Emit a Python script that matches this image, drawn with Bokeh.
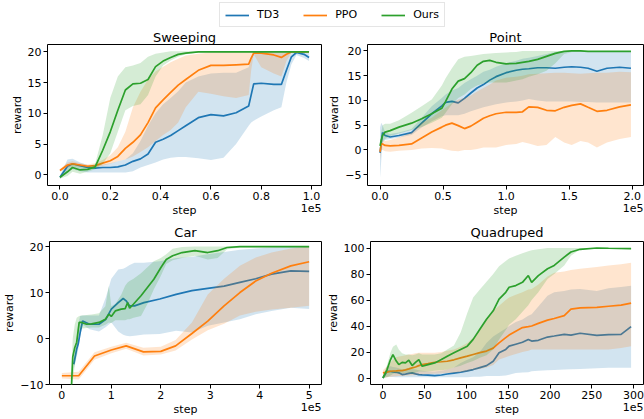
from bokeh.plotting import figure
from bokeh.layouts import column, row
from bokeh.models import Range1d, FixedTicker, LinearAxis, Legend, LegendItem, PrintfTickFormatter
from bokeh.embed import file_html
from bokeh.resources import INLINE

C_TD3 = "#1f77b4"
C_PPO = "#ff7f0e"
C_OURS = "#2ca02c"
FONT = "DejaVu Sans"

# ---------------- Sweeping (step in 1e5) ----------------
sweep_x = [0.0, 0.03, 0.05, 0.08, 0.11, 0.14, 0.17, 0.20, 0.23, 0.26, 0.29, 0.32, 0.35, 0.38, 0.41,
           0.44, 0.47, 0.50, 0.55, 0.60, 0.65, 0.70, 0.75, 0.76, 0.77, 0.80, 0.85, 0.88, 0.90, 0.92,
           0.94, 0.97, 0.99]
sweep_td3 = [-0.4, 1.4, 1.8, 1.5, 1.2, 1.1, 1.2, 1.2, 1.3, 1.6, 2.2, 2.6, 3.4, 5.3, 5.8, 6.4, 7.2, 8.0,
             9.3, 9.8, 9.6, 10.1, 11.2, 13.0, 14.8, 14.9, 14.7, 14.7, 17.0, 19.2, 19.9, 19.6, 19.1]
sweep_td3_lo = [-0.7, 0.5, 0.9, 0.6, 0.4, 0.4, 0.4, 0.4, 0.4, 0.4, 0.6, 1.2, 1.6, 2.0, 2.5, 2.8, 2.9,
                2.9, 2.7, 2.4, 2.8, 5.0, 8.0, 8.5, 8.8, 9.5, 10.5, 11.0, 15.0, 18.0, 19.5, 19.0, 18.5]
sweep_td3_hi = [-0.1, 2.5, 2.6, 2.0, 1.6, 1.6, 1.7, 1.9, 2.2, 2.5, 3.5, 5.5, 8.0, 10.0, 11.5, 12.5,
                13.6, 15.0, 16.0, 16.5, 16.6, 16.6, 17.5, 19.0, 20.0, 20.0, 20.0, 20.0, 20.0, 20.0,
                20.0, 20.0, 19.8]
sweep_ppo = [0.7, 1.6, 1.8, 1.6, 1.4, 1.5, 1.9, 2.3, 3.0, 4.3, 5.3, 6.5, 8.5, 10.9, 12.2, 13.4, 14.6,
             15.5, 17.0, 17.8, 17.8, 17.9, 18.0, 19.0, 19.8, 19.8, 19.5, 19.1, 19.6, 20.0, 20.0, 20.0,
             20.0]
sweep_ppo_lo = [0.5, 1.2, 1.4, 1.3, 1.2, 1.2, 1.5, 1.8, 2.2, 2.5, 3.0, 3.7, 4.5, 5.5, 6.5, 7.3, 8.5,
                11.0, 13.5, 13.2, 12.8, 12.5, 13.0, 17.0, 19.6, 17.5, 16.5, 16.0, 18.5, 19.9, 19.9,
                19.9, 19.9]
sweep_ppo_hi = [0.9, 2.0, 2.2, 1.9, 1.7, 1.9, 2.4, 3.2, 4.5, 7.0, 11.0, 13.5, 15.5, 16.8, 17.6, 18.3,
                18.9, 19.4, 19.7, 19.9, 20.0, 20.0, 20.0, 20.0, 20.0, 20.0, 20.0, 20.0, 20.0, 20.0,
                20.0, 20.0, 20.0]
sweep_ours = [-0.4, 0.5, 1.2, 0.8, 0.9, 1.3, 4.0, 7.0, 10.5, 13.8, 14.8, 14.9, 15.5, 17.6, 18.5, 19.1,
              19.6, 19.8, 20.0, 20.0, 20.0, 20.0, 20.0, 20.0, 20.0, 20.0, 20.0, 20.0, 20.0, 20.0,
              20.0, 20.0, 20.0]
sweep_ours_lo = [-0.6, -0.2, 0.5, 0.2, 0.5, 0.9, 1.8, 3.5, 7.0, 10.5, 11.2, 11.5, 13.0, 16.0, 17.8,
                 18.6, 19.2, 19.6, 19.9, 19.9, 19.9, 19.9, 19.9, 19.9, 19.9, 19.9, 19.9, 19.9, 19.9,
                 19.9, 19.9, 19.9, 19.9]
sweep_ours_hi = [-0.2, 1.2, 1.9, 1.4, 1.3, 1.8, 6.5, 12.5, 16.0, 17.5, 17.8, 18.2, 19.2, 19.7, 19.9,
                 20.1, 20.1, 20.1, 20.1, 20.1, 20.1, 20.1, 20.1, 20.1, 20.1, 20.1, 20.1, 20.1, 20.1,
                 20.1, 20.1, 20.1, 20.1]

# ---------------- Point (step in 1e5) ----------------
point_x = [0.0, 0.01, 0.02, 0.04, 0.08, 0.15, 0.25, 0.33, 0.41, 0.49, 0.52, 0.57, 0.62, 0.67, 0.72,
           0.77, 0.82, 0.87, 0.92, 1.0, 1.08, 1.13, 1.18, 1.25, 1.32, 1.39, 1.46, 1.52, 1.59, 1.65,
           1.72, 1.8, 1.9, 1.99]
point_td3 = [-0.6, 1.5, 3.5, 2.9, 2.6, 2.9, 3.5, 5.4, 7.3, 8.9, 9.6, 9.8, 9.5, 10.4, 11.5, 12.5, 13.2,
             14.1, 14.8, 15.6, 16.1, 16.3, 16.4, 16.6, 16.6, 16.5, 16.7, 16.8, 16.7, 16.5, 15.9,
             16.5, 16.7, 16.5]
point_td3_lo = [-5.7, -2.0, 1.5, 2.0, 2.2, 2.5, 3.0, 4.5, 5.8, 6.8, 7.0, 7.0, 7.0, 7.3, 7.8, 8.2, 8.6,
                8.9, 9.2, 9.6, 9.8, 10.0, 10.3, 10.0, 9.8, 9.8, 9.8, 9.8, 9.7, 9.7, 9.6, 9.6, 9.6,
                9.6]
point_td3_hi = [4.5, 5.5, 5.0, 3.6, 3.2, 3.5, 4.2, 6.5, 8.8, 10.5, 11.2, 12.0, 12.5, 13.5, 14.3, 15.0,
                15.8, 16.2, 16.8, 17.5, 18.0, 18.4, 18.6, 19.0, 19.4, 19.8, 20.0, 20.0, 20.0, 20.0,
                20.0, 20.0, 20.0, 20.0]
point_ppo = [-0.4, 1.3, 1.2, 0.9, 0.8, 0.9, 1.2, 2.4, 3.6, 4.6, 5.0, 5.4, 4.9, 4.3, 4.8, 5.6, 6.4,
             6.9, 7.3, 7.6, 7.6, 7.7, 8.7, 8.6, 8.0, 7.9, 8.6, 9.0, 9.3, 8.6, 7.8, 8.0, 8.7, 9.1]
point_ppo_lo = [-2.0, 0.0, 0.0, -0.3, -0.4, -0.2, 0.0, 0.3, 0.4, 0.3, 0.1, -0.2, -0.3, 0.0, 0.0, 0.2,
                0.5, 0.5, 0.5, 1.0, 1.2, 1.6, 1.3, 0.8, 1.0, 2.6, 1.5, 1.0, 1.8, 1.5, 0.5, 1.5, 2.2,
                2.6]
point_ppo_hi = [1.0, 2.0, 2.0, 1.8, 2.0, 2.5, 3.5, 5.5, 6.5, 8.0, 8.5, 9.5, 10.2, 10.5, 11.0, 11.8,
                12.5, 13.2, 14.0, 14.6, 14.8, 15.0, 15.3, 15.4, 15.5, 15.6, 15.6, 15.5, 15.4, 15.5,
                15.6, 15.6, 15.8, 15.7]
point_ours = [0.8, 2.0, 2.9, 3.6, 3.9, 4.6, 5.4, 6.3, 7.3, 8.4, 9.8, 12.3, 13.9, 14.4, 15.6, 17.1,
              17.9, 18.1, 17.7, 17.4, 17.5, 17.7, 17.9, 18.3, 18.9, 19.5, 19.9, 20.0, 20.0, 19.9,
              19.9, 19.9, 19.9, 19.9]
point_ours_lo = [0.0, 0.8, 1.8, 2.2, 2.8, 3.3, 4.0, 4.6, 5.5, 6.5, 7.5, 9.2, 10.5, 11.2, 12.3, 13.0,
                 13.4, 13.6, 13.6, 13.6, 14.0, 14.3, 14.8, 15.3, 16.0, 17.5, 19.4, 19.8, 19.8, 19.8,
                 19.8, 19.8, 19.8, 19.8]
point_ours_hi = [1.8, 3.5, 5.0, 5.3, 5.3, 6.0, 7.5, 8.8, 10.2, 13.0, 14.5, 16.5, 18.3, 18.8, 19.0,
                 19.2, 19.4, 19.5, 19.6, 19.7, 19.8, 20.0, 20.0, 20.0, 20.0, 20.0, 20.0, 20.0, 20.0,
                 20.0, 20.0, 20.0, 20.0, 20.0]

# ---------------- Car (step in 1e5) ----------------
car_td3_x = [0.24, 0.3, 0.33, 0.37, 0.42, 0.56, 0.75, 0.89, 1.0, 1.14, 1.24, 1.3, 1.37, 1.47, 1.66,
             1.98, 2.31, 2.63, 2.95, 3.28, 3.6, 3.92, 4.24, 4.63, 5.0]
car_td3 = [-5.6, -2.3, -1.2, 1.3, 3.8, 3.1, 3.1, 4.2, 6.4, 7.8, 8.7, 8.2, 7.1, 7.1, 7.8, 8.6, 9.6,
           10.4, 10.9, 11.4, 12.2, 13.0, 14.0, 14.7, 14.6]
car_td3_lo = [-6.5, -4.0, -2.5, 0.5, 3.0, 2.0, 1.5, 2.5, 3.5, 1.5, 0.8, 0.6, 0.5, 0.6, 0.9, 1.0, 1.7,
              1.3, 2.8, 3.5, 4.2, 5.3, 6.0, 6.7, 6.4]
car_td3_hi = [-4.5, 0.0, 3.0, 4.9, 5.0, 5.0, 5.0, 9.0, 13.0, 15.0, 15.2, 15.5, 16.0, 16.5, 16.5, 16.8,
              17.5, 17.8, 18.3, 18.8, 19.3, 19.6, 19.8, 19.9, 20.0]
car_ppo_x = [0.0, 0.34, 0.66, 1.0, 1.3, 1.65, 2.0, 2.3, 2.63, 2.95, 3.28, 3.6, 3.92, 4.24, 4.63, 5.0]
car_ppo = [-8.1, -8.1, -3.8, -2.5, -1.6, -2.9, -2.8, -1.6, 1.1, 3.8, 7.1, 10.0, 12.5, 14.2, 15.8, 16.7]
car_ppo_lo = [-8.7, -8.9, -4.6, -3.2, -2.2, -3.7, -3.5, -2.6, -0.2, 1.8, 3.2, 5.0, 5.8, 6.3, 6.7, 7.1]
car_ppo_hi = [-7.5, -7.2, -3.0, -1.8, -0.9, -2.0, -1.8, -0.3, 3.5, 9.6, 13.0, 15.8, 17.6, 18.7, 19.6,
              20.0]
car_ours_x = [0.19, 0.22, 0.26, 0.3, 0.35, 0.4, 0.5, 0.6, 0.75, 0.88, 0.95, 1.0, 1.08, 1.2, 1.28, 1.33,
              1.37, 1.45, 1.6, 1.73, 1.86, 2.0, 2.11, 2.24, 2.43, 2.69, 2.95, 3.15, 3.34, 3.6, 4.0,
              4.5, 5.0]
car_ours = [-11.5, -4.0, -2.0, -0.8, 3.5, 3.5, 3.1, 3.2, 3.5, 4.2, 5.3, 4.8, 6.0, 6.4, 6.5, 7.8, 6.6,
            7.5, 9.3, 11.1, 12.9, 15.4, 17.2, 18.0, 18.7, 19.1, 18.7, 19.1, 19.8, 20.0, 20.0, 20.0,
            20.0]
car_ours_lo = [-12.0, -9.0, -6.0, -3.0, 1.5, 2.2, 2.3, 2.4, 2.4, 3.0, 3.5, 3.4, 4.0, 4.0, 4.0, 4.2,
               4.2, 4.5, 4.9, 7.5, 10.7, 13.6, 16.2, 17.0, 17.5, 18.0, 17.2, 17.5, 19.4, 19.8, 19.8,
               19.8, 19.8]
car_ours_hi = [-8.0, 0.0, 3.0, 4.5, 4.9, 5.0, 5.1, 5.2, 5.5, 7.0, 11.5, 7.0, 7.5, 9.5, 11.5, 12.2,
               12.5, 13.0, 14.2, 15.5, 16.8, 17.5, 18.3, 19.5, 19.9, 20.0, 20.0, 20.0, 20.0, 20.1,
               20.1, 20.1, 20.1]

# ---------------- Quadruped (step in 1e5) ----------------
quad_x = [0, 5, 9, 12, 16, 19, 23, 27, 31, 35, 39, 43, 47, 54, 62, 70, 77, 85, 93, 101, 108, 116, 124,
          132, 139, 147, 151, 159, 167, 174, 178, 186, 197, 205, 217, 225, 236, 256, 270, 285, 297]
quad_td3 = [0, 5.2, 5.0, 4.6, 4.4, 4.0, 2.6, 3.0, 3.6, 3.9, 3.2, 2.6, 2.4, 2.2, 1.8, 2.3, 3.1, 3.8,
            4.4, 5.5, 6.5, 8.0, 9.5, 12.9, 19.4, 22, 24.5, 26, 27.5, 29.7, 28.4, 29, 31.5, 32.3,
            33.6, 33, 34.4, 32.8, 33.3, 33.6, 39.5]
quad_td3_lo = [0, 1, 0.8, 0.8, 0.6, 0.5, 0.5, 0.5, 0.5, 0.5, 0.5, 0.5, 0.5, 0.5, 0.5, 0.5, 0.5, 0.5,
               0.5, 0.5, 1, 1, 1.5, 1.5, 1.5, 2, 2.5, 3.9, 4.2, 4.5, 5.2, 5.5, 6, 6.2, 6.5, 6.7, 7,
               7.5, 7.8, 7.8, 7.8]
quad_td3_hi = [1, 9, 9, 8.5, 8, 7.5, 6.5, 6.5, 7, 7, 6.5, 6, 5.5, 5, 5, 5.5, 6.5, 8, 11.6, 14, 16, 20,
               27, 32, 34.9, 38, 40, 43, 45, 47.8, 49, 55, 63.3, 66, 67, 68, 68.5, 67, 69, 70, 71]
quad_ppo = [3.9, 4.5, 5.2, 5.4, 5.5, 5.6, 5.7, 6.3, 7.0, 7.8, 8.5, 9.5, 10.3, 11.0, 12.1, 12.5, 12.9,
            14.0, 15.5, 16.8, 18.1, 19.5, 20.7, 23, 27, 31, 33, 36, 38.8, 39.5, 40, 42, 44.5, 45.8,
            48, 53, 54, 54.3, 55.2, 56, 57.6]
quad_ppo_lo = [0, 0.5, 1, 1.2, 1.3, 1.5, 1.6, 1.8, 2, 2.1, 2.3, 2.5, 2.6, 3.0, 3.2, 3.5, 3.8, 4, 4.5,
               5, 6, 7, 8, 10, 14.2, 16, 17, 18.5, 20, 21, 22, 22, 22, 22, 22, 22, 22, 22, 22, 23,
               24.5]
quad_ppo_hi = [6, 9, 12, 14, 16, 16.5, 17, 17.5, 18, 18.5, 19, 19.4, 19.4, 19.4, 19.4, 20, 21, 22, 24,
               27, 31, 37, 45, 52, 55.6, 60, 62, 64, 66, 68, 68.5, 72, 78, 81, 82, 83, 84, 85.3,
               86.5, 87.5, 88.6]
quad_ours = [0, 6.5, 14, 18, 13, 10.3, 12, 11.6, 13.7, 9.6, 12, 14.2, 9.0, 10.3, 11.6, 14.2, 16.8,
             19.4, 22.0, 24.5, 29.7, 37.5, 45.2, 51.7, 60.7, 65.9, 69.8, 71.1, 73.6, 78.8, 73.6,
             78.8, 84, 86.6, 93, 96.9, 99, 100, 99.8, 99.6, 99.5]
quad_ours_lo = [0, 0.5, 2, 3, 3.9, 3.5, 3.5, 3.8, 4.0, 3.5, 4, 5, 5, 5, 5.5, 6, 6.5, 8, 9.5, 11.6, 13,
                15.5, 17.5, 22, 29.7, 37, 41, 45.2, 51, 56, 60, 66, 76.2, 80, 86.6, 94, 99, 99.5,
                99.3, 99.1, 99]
quad_ours_hi = [1, 10, 19.4, 24, 25.8, 22, 19, 18, 18, 17.5, 18, 19, 18, 18, 18, 19, 22, 25, 35, 50,
                62, 68, 74, 80, 86, 90, 92, 94, 96, 97.5, 98.2, 99, 100, 100, 100, 100, 100, 100,
                100, 100, 100]

# ---------------- ticks ----------------
sweep_xticks = [0.0, 0.2, 0.4, 0.6, 0.8, 1.0]
sweep_yticks = [0, 5, 10, 15, 20]
point_xticks = [0.0, 0.5, 1.0, 1.5, 2.0]
point_yticks = [-5, 0, 5, 10, 15, 20]
car_xticks = [0, 1, 2, 3, 4, 5]
car_yticks = [-10, 0, 10, 20]
quad_xticks = [0, 50, 100, 150, 200, 250, 300]
quad_yticks = [0, 20, 40, 60, 80, 100]
OFFSET_TEXT = "1e5"

# layout (page is 644 x 419, bokeh's template has no body margin)
LEG_H = 27
LEFT_W, RIGHT_W = 323, 321
LEFT_BL, LEFT_BR = 47, 2
RIGHT_BL, RIGHT_BR = 44, 1
TOP_H, BOT_H = 193, 199
TOP_BT, BOT_BT = 17, 21
BB = 35
OFFSET_HALF_W = 10.4   # half the pixel width of the offset text


def style_axis(ax):
    ax.axis_line_color = None
    ax.major_tick_line_color = "black"
    ax.major_tick_out = 4
    ax.major_tick_in = 0
    ax.minor_tick_line_color = None
    ax.major_label_text_font = FONT
    ax.major_label_text_font_size = "11px"
    ax.major_label_text_color = "black"
    ax.major_label_standoff = 2
    ax.axis_label_text_font = FONT
    ax.axis_label_text_font_size = "11px"
    ax.axis_label_text_font_style = "normal"
    ax.axis_label_text_color = "black"
    ax.axis_label_standoff = 1


def make_panel(title, w, h, bl, br, bt, standoff, xr, yr, xticks, yticks, xfmt=None):
    p = figure(width=w, height=h, x_range=Range1d(*xr), y_range=Range1d(*yr),
               toolbar_location=None, output_backend="svg", title=title,
               min_border_left=bl, min_border_right=br,
               min_border_top=bt, min_border_bottom=BB)
    p.background_fill_color = "white"
    p.border_fill_color = "white"
    p.outline_line_color = "black"
    p.outline_line_width = 1
    p.outline_line_alpha = 1
    p.xgrid.visible = False
    p.ygrid.visible = False
    p.title.text_font = FONT
    p.title.text_font_size = "13px"
    p.title.text_font_style = "normal"
    p.title.text_color = "black"
    p.title.align = "center"
    p.title.standoff = standoff
    p.xaxis.ticker = FixedTicker(ticks=xticks)
    if xfmt is not None:
        p.xaxis.formatter = PrintfTickFormatter(format=xfmt)
    p.yaxis.ticker = FixedTicker(ticks=yticks)
    p.yaxis.major_label_overrides = {v: "\u2212" + str(abs(v)) for v in yticks if v < 0}
    p.yaxis.axis_label = "reward"
    style_axis(p.xaxis[0])
    style_axis(p.yaxis[0])
    # second bottom axis: carries the "1e5" offset text (right aligned) and the "step" label
    frame_w = w - bl - br
    pos = xr[1] - OFFSET_HALF_W * (xr[1] - xr[0]) / frame_w
    ax2 = LinearAxis(ticker=FixedTicker(ticks=[pos]), axis_label="step",
                     major_label_overrides={pos: OFFSET_TEXT})
    style_axis(ax2)
    ax2.major_tick_out = 0
    ax2.major_tick_line_color = None
    ax2.major_label_standoff = 1
    ax2.axis_label_standoff = -11
    p.add_layout(ax2, "below")
    return p


def add_series(p, x, mean, lo, hi, color):
    p.varea(x=x, y1=lo, y2=hi, fill_color=color, fill_alpha=0.2)
    p.line(x, mean, line_color=color, line_width=1.7)


p1 = make_panel("Sweeping", LEFT_W, TOP_H, LEFT_BL, LEFT_BR, TOP_BT, 0,
                (-0.0495, 1.0395), (-1.73, 21.2), sweep_xticks, sweep_yticks, "%.1f")
add_series(p1, sweep_x, sweep_td3, sweep_td3_lo, sweep_td3_hi, C_TD3)
add_series(p1, sweep_x, sweep_ppo, sweep_ppo_lo, sweep_ppo_hi, C_PPO)
add_series(p1, sweep_x, sweep_ours, sweep_ours_lo, sweep_ours_hi, C_OURS)

p2 = make_panel("Point", RIGHT_W, TOP_H, RIGHT_BL, RIGHT_BR, TOP_BT, 0,
                (-0.0995, 2.0895), (-7.2, 21.3), point_xticks, point_yticks, "%.1f")
add_series(p2, point_x, point_td3, point_td3_lo, point_td3_hi, C_TD3)
add_series(p2, point_x, point_ppo, point_ppo_lo, point_ppo_hi, C_PPO)
add_series(p2, point_x, point_ours, point_ours_lo, point_ours_hi, C_OURS)

p3 = make_panel("Car", LEFT_W, BOT_H, LEFT_BL, LEFT_BR, BOT_BT, 4,
                (-0.25, 5.25), (-10, 21.1), car_xticks, car_yticks)
add_series(p3, car_td3_x, car_td3, car_td3_lo, car_td3_hi, C_TD3)
add_series(p3, car_ppo_x, car_ppo, car_ppo_lo, car_ppo_hi, C_PPO)
add_series(p3, car_ours_x, car_ours, car_ours_lo, car_ours_hi, C_OURS)

p4 = make_panel("Quadruped", RIGHT_W, BOT_H, RIGHT_BL, RIGHT_BR, BOT_BT, 4,
                (-14.85, 311.85), (-5, 105), quad_xticks, quad_yticks)
add_series(p4, quad_x, quad_td3, quad_td3_lo, quad_td3_hi, C_TD3)
add_series(p4, quad_x, quad_ppo, quad_ppo_lo, quad_ppo_hi, C_PPO)
add_series(p4, quad_x, quad_ours, quad_ours_lo, quad_ours_hi, C_OURS)

# ---------------- shared legend ----------------
leg = figure(width=LEFT_W + RIGHT_W, height=LEG_H, x_range=Range1d(0, 1), y_range=Range1d(0, 1),
             toolbar_location=None, output_backend="svg", x_axis_type=None, y_axis_type=None,
             min_border=0)
leg.outline_line_color = None
leg.xgrid.visible = False
leg.ygrid.visible = False
items = []
for name, color in (("TD3", C_TD3), ("PPO", C_PPO), ("Ours", C_OURS)):
    r = leg.line([5, 6], [5, 6], line_color=color, line_width=1.7)
    items.append(LegendItem(label=name, renderers=[r]))
legend = Legend(items=items, orientation="horizontal", location=(219, 0),
                label_text_font=FONT, label_text_font_size="11px", label_text_color="black",
                glyph_width=24, glyph_height=12, label_height=12, label_standoff=8, spacing=24,
                padding=5, margin=0, border_line_color="#cccccc", border_line_width=1,
                background_fill_color="white", background_fill_alpha=1)
leg.add_layout(legend, "center")

layout = column(leg, row(p1, p2), row(p3, p4))

open("out.html", "w").write(file_html(layout, INLINE))
